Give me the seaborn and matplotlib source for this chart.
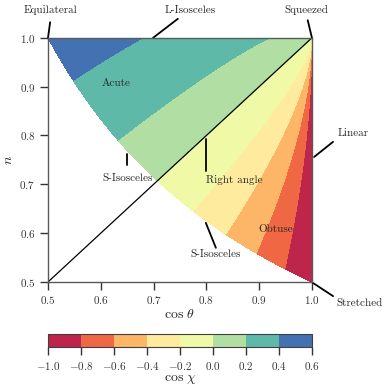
import numpy as np
import matplotlib
matplotlib.use("Agg")
import matplotlib.pyplot as plt
import seaborn as sns

# contour levels of cos(chi) and axis ticks
levels = [-1.0, -0.8, -0.6, -0.4, -0.2, 0.0, 0.2, 0.4, 0.6]
xticks = [0.5, 0.6, 0.7, 0.8, 0.9, 1.0]
yticks = [0.5, 0.6, 0.7, 0.8, 0.9, 1.0]

# triangle shape labels
region_labels = ["Acute", "Obtuse"]
edge_labels = ["Equilateral", "L-Isosceles", "Squeezed", "Linear", "Stretched",
               "S-Isosceles", "Right angle", "S-Isosceles"]

sns.set_style("ticks")
plt.rcParams["font.family"] = "cmr10"
plt.rcParams["mathtext.fontset"] = "cm"
plt.rcParams["axes.formatter.use_mathtext"] = True
plt.rcParams["axes.unicode_minus"] = True

# grid over the allowed region: 1/(2 cos theta) <= n <= 1
cth = np.linspace(0.5, 1.0, 400)
t = np.linspace(0.0, 1.0, 400)
C, T = np.meshgrid(cth, t)
nmin = 1.0 / (2.0 * C)
N = nmin + T * (1.0 - nmin)
k3 = np.sqrt(np.clip(1.0 + N**2 - 2.0 * N * C, 0, None))
with np.errstate(divide="ignore", invalid="ignore"):
    cos_chi = np.where(k3 > 1e-9, (N - C) / k3, 0.0)
cos_chi = np.clip(cos_chi, -1.0, 1.0)

fig = plt.figure(figsize=(3.91, 3.90), dpi=100)
ax = fig.add_axes([0.1228, 0.277, 0.675, 0.626])
cax = fig.add_axes([0.1228, 0.110, 0.675, 0.034])

cmap = sns.color_palette("Spectral", as_cmap=True)
cf = ax.contourf(C, N, cos_chi, levels=levels, cmap=cmap)

# right angle line n = cos theta
ax.plot(cth, cth, color="k", lw=0.9)

ax.set_xlim(0.5, 1.0)
ax.set_ylim(0.5, 1.0)
ax.set_xticks(xticks)
ax.set_yticks(yticks)
ax.set_xlabel(r"$\cos\,\theta$", fontsize=10, labelpad=1)
ax.set_ylabel(r"$n$", fontsize=10, labelpad=3)
ax.tick_params(direction="out", length=5.5, width=1, labelsize=8, colors="0.2")
for sp in ax.spines.values():
    sp.set_color("0.35")
    sp.set_linewidth(1.0)

fs = 8
# region names
ax.text(0.629, 0.908, region_labels[0], fontsize=fs, ha="center", va="center")
ax.text(0.932, 0.609, region_labels[1], fontsize=fs, ha="center", va="center")

# edge / corner names with pointer lines
pointers = [
    ((0.500, 1.000), (0.504, 1.032), (0.504, 1.057), "center"),
    ((0.699, 1.000), (0.746, 1.039), (0.769, 1.057), "center"),
    ((1.000, 1.000), (0.992, 1.036), (0.990, 1.057), "center"),
    ((1.004, 0.756), (1.040, 0.787), (1.049, 0.805), "left"),
    ((1.002, 0.498), (1.040, 0.471), (1.047, 0.457), "left"),
    ((0.650, 0.762), (0.650, 0.740), (0.650, 0.712), "center"),
    ((0.799, 0.793), (0.799, 0.727), (0.800, 0.708), "left"),
    ((0.799, 0.621), (0.818, 0.570), (0.818, 0.557), "center"),
]
for (p0, p1, tp, ha), lab in zip(pointers, edge_labels):
    ax.plot([p0[0], p1[0]], [p0[1], p1[1]], color="k", lw=1.3, clip_on=False)
    ax.text(tp[0], tp[1], lab, fontsize=fs, ha=ha, va="center")

cb = fig.colorbar(cf, cax=cax, orientation="horizontal", ticks=levels)
cb.set_label(r"$\cos\,\chi$", fontsize=10, labelpad=1)
cb.ax.tick_params(direction="out", length=5.5, width=1, labelsize=8, colors="0.2")
cb.outline.set_edgecolor("0.25")

fig.savefig("out.png", dpi=100)
